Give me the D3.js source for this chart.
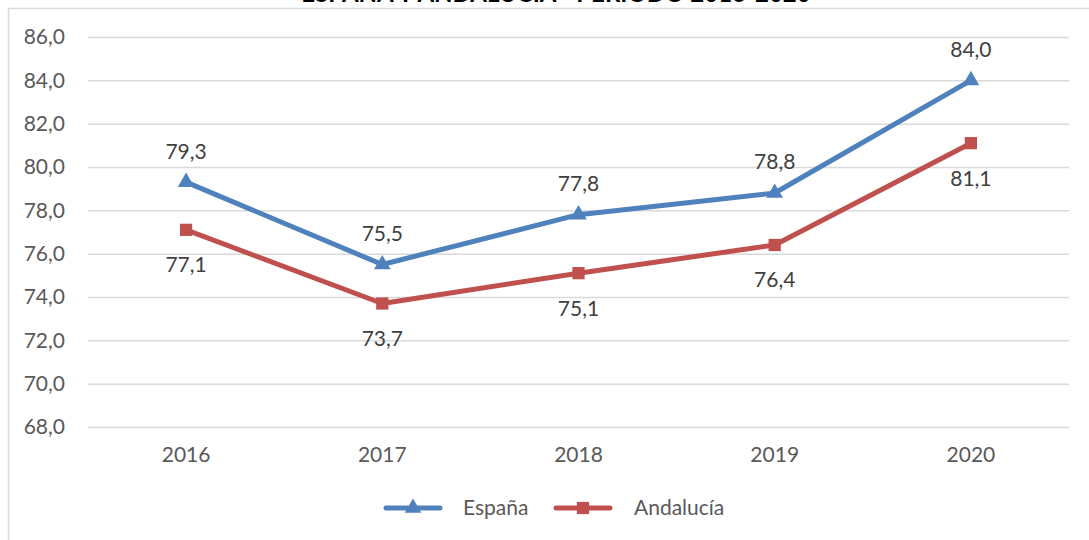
<!DOCTYPE html>
<html lang="es">
<head>
<meta charset="UTF-8">
<script src="https://cdn.jsdelivr.net/npm/d3@7"></script>
<style>
  body { margin: 0; background: #fff; }
  text { font-family: Lato, "Open Sans", sans-serif; }
</style>
</head>
<body>
<div id="chart"></div>
<script>
  const years = ["2016", "2017", "2018", "2019", "2020"];
  const espana = [79.3, 75.5, 77.8, 78.8, 84.0];
  const andalucia = [77.1, 73.7, 75.1, 76.4, 81.1];
  const yTicks = [68, 70, 72, 74, 76, 78, 80, 82, 84, 86];

  const W = 1089, H = 540;
  const margin = {top: 37, right: 20, bottom: 113, left: 88};
  const width = 1069 - margin.left, height = H - margin.top - margin.bottom;

  const svg = d3.select("#chart").append("svg")
    .attr("width", W).attr("height", H);

  // frame
  svg.append("path")
    .attr("d", "M8.5," + H + "V8.5H" + W)
    .attr("fill", "none").attr("stroke", "#d9d9d9").attr("stroke-width", 1.5);

  // title (cut off at top)
  svg.append("text")
    .attr("x", 556).attr("y", 2)
    .attr("text-anchor", "middle")
    .style("font-weight", "bold").style("font-size", "24px").style("fill", "#000")
    .text("ESPAÑA Y ANDALUCÍA - PERIODO 2016-2020");

  const g = svg.append("g").attr("transform", "translate(" + margin.left + "," + margin.top + ")");

  const x = d3.scaleBand().domain(years).range([0, width]);
  const y = d3.scaleLinear().domain([68, 86]).range([height, 0]);

  g.append("g")
    .call(d3.axisLeft(y).tickValues(yTicks).tickSize(-width).tickPadding(23)
      .tickFormat(d => d3.format(".1f")(d).replace(".", ",")))
    .call(a => a.select(".domain").remove())
    .call(a => a.selectAll("line").attr("stroke", "#d9d9d9").attr("stroke-width", 1.5))
    .call(a => a.selectAll("text").style("font-size", "21px").style("fill", "#595959"));

  g.append("g")
    .attr("transform", "translate(0," + height + ")")
    .call(d3.axisBottom(x).tickSize(0).tickPadding(20))
    .call(a => a.select(".domain").remove())
    .call(a => a.selectAll("text").style("font-size", "21px").style("fill", "#595959"));

  const fmt = v => d3.format(".1f")(v).replace(".", ",");
  const series = [
    {name: "España", values: espana, color: "#4f81bd", shape: d3.symbolTriangle, size: 120, dy: -31},
    {name: "Andalucía", values: andalucia, color: "#c0504d", shape: d3.symbolSquare, size: 150, dy: 35}
  ];

  const line = d3.line()
    .x((d, i) => x(years[i]) + x.bandwidth() / 2)
    .y(d => y(d));

  series.forEach(s => {
    g.append("path")
      .datum(s.values)
      .attr("d", line)
      .attr("fill", "none")
      .attr("stroke", s.color)
      .attr("stroke-width", 5)
      .attr("stroke-linejoin", "round")
      .attr("stroke-linecap", "round");

    g.selectAll(null)
      .data(s.values)
      .enter().append("path")
        .attr("d", d3.symbol().type(s.shape).size(s.size))
        .attr("transform", (d, i) => "translate(" + (x(years[i]) + x.bandwidth() / 2) + "," + y(d) + ")")
        .attr("fill", s.color);

    g.selectAll(null)
      .data(s.values)
      .enter().append("text")
        .attr("x", (d, i) => x(years[i]) + x.bandwidth() / 2)
        .attr("y", d => y(d) + s.dy)
        .attr("dy", "0.35em")
        .attr("text-anchor", "middle")
        .style("font-size", "21px").style("fill", "#404040")
        .text(fmt);
  });

  // legend
  const legend = svg.append("g").attr("transform", "translate(0,508)");
  const items = [{s: series[0], x: 386, tx: 463}, {s: series[1], x: 556, tx: 634}];
  items.forEach(it => {
    legend.append("line")
      .attr("x1", it.x).attr("x2", it.x + 54)
      .attr("stroke", it.s.color).attr("stroke-width", 5).attr("stroke-linecap", "round");
    legend.append("path")
      .attr("d", d3.symbol().type(it.s.shape).size(it.s.size))
      .attr("transform", "translate(" + (it.x + 27) + ",0)")
      .attr("fill", it.s.color);
    legend.append("text")
      .attr("x", it.tx).attr("dy", "0.35em")
      .style("font-size", "21px").style("fill", "#595959")
      .text(it.s.name);
  });
</script>
</body>
</html>
